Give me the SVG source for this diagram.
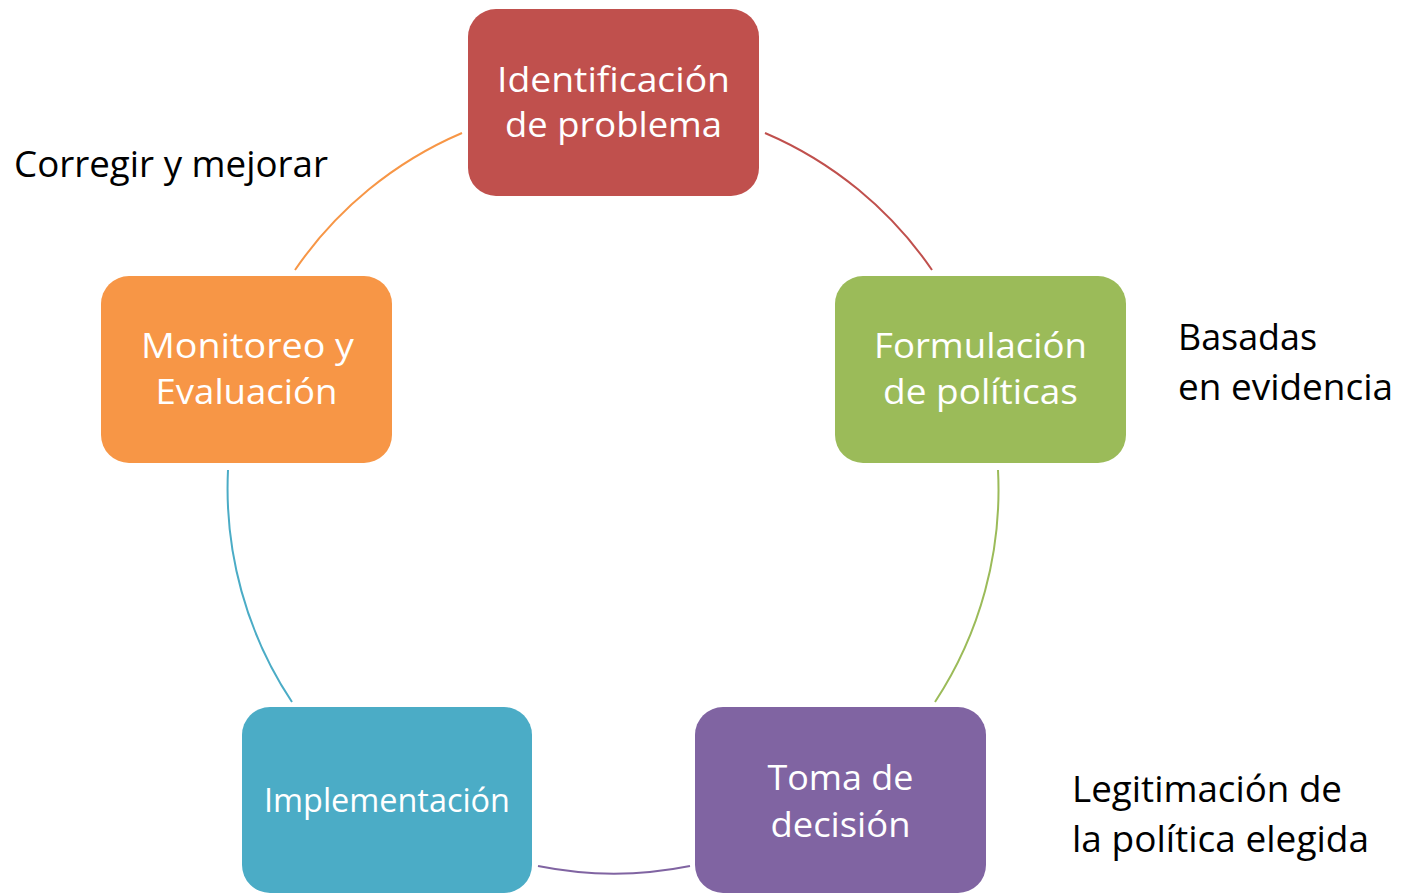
<svg xmlns="http://www.w3.org/2000/svg" width="1405" height="893" viewBox="0 0 1405 893">
<style>
.node text{font-family:"Open Sans","Noto Sans",sans-serif;font-size:34px;fill:#ffffff;text-anchor:middle}
.lbl{font-family:"Open Sans","Noto Sans",sans-serif;font-size:37px;fill:#000000}
.conn path{fill:none;stroke-width:2}
</style>
<rect width="1405" height="893" fill="#ffffff"/>
<g id="connectors" class="conn">
<path d="M765,133 A386,386 0 0 1 932,270" stroke="#C0504D"/>
<path d="M998,470 A386,386 0 0 1 935,702" stroke="#9BBB59"/>
<path d="M690,866 A386,386 0 0 1 538,866" stroke="#8064A2"/>
<path d="M292,702 A386,386 0 0 1 228,470" stroke="#4BACC6"/>
<path d="M295,270 A386,386 0 0 1 462,133" stroke="#F79646"/>
</g>
<g id="node-identificacion" class="node">
<rect x="468" y="9" width="291" height="187" rx="28" fill="#C0504D"/>
<text x="613.5" y="92" textLength="233" lengthAdjust="spacingAndGlyphs">Identificación</text>
<text x="613.5" y="137" textLength="217" lengthAdjust="spacingAndGlyphs">de problema</text>
</g>
<g id="node-formulacion" class="node">
<rect x="835" y="276" width="291" height="187" rx="28" fill="#9BBB59"/>
<text x="980.5" y="358" textLength="213" lengthAdjust="spacingAndGlyphs">Formulación</text>
<text x="980.5" y="404" textLength="195" lengthAdjust="spacingAndGlyphs">de políticas</text>
</g>
<g id="node-toma" class="node">
<rect x="695" y="707" width="291" height="186" rx="28" fill="#8064A2"/>
<text x="840.5" y="790" textLength="146" lengthAdjust="spacingAndGlyphs">Toma de</text>
<text x="840.5" y="837" textLength="140" lengthAdjust="spacingAndGlyphs">decisión</text>
</g>
<g id="node-implementacion" class="node">
<rect x="242" y="707" width="290" height="186" rx="28" fill="#4BACC6"/>
<text x="387" y="812" style="font-size:33px" textLength="246" lengthAdjust="spacingAndGlyphs">Implementación</text>
</g>
<g id="node-monitoreo" class="node">
<rect x="101" y="276" width="291" height="187" rx="28" fill="#F79646"/>
<text x="247.5" y="358" textLength="213" lengthAdjust="spacingAndGlyphs">Monitoreo y</text>
<text x="246.5" y="404" textLength="182" lengthAdjust="spacingAndGlyphs">Evaluación</text>
</g>
<g id="labels">
<text class="lbl" x="14" y="177" textLength="314" lengthAdjust="spacingAndGlyphs">Corregir y mejorar</text>
<text class="lbl" x="1178" y="350" textLength="139" lengthAdjust="spacingAndGlyphs">Basadas</text>
<text class="lbl" x="1178" y="400" textLength="215" lengthAdjust="spacingAndGlyphs">en evidencia</text>
<text class="lbl" x="1072" y="802" textLength="270" lengthAdjust="spacingAndGlyphs">Legitimación de</text>
<text class="lbl" x="1072" y="852" textLength="297" lengthAdjust="spacingAndGlyphs">la política elegida</text>
</g>
</svg>
